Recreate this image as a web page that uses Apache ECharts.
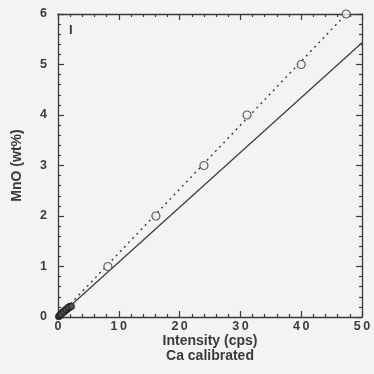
<!DOCTYPE html>
<html>
<head>
<meta charset="utf-8">
<script src="https://cdn.jsdelivr.net/npm/echarts@6/dist/echarts.min.js"></script>
<style>
  html, body { margin: 0; padding: 0; background: #f3f3f1; }
  #chart { width: 374px; height: 374px; }
</style>
</head>
<body>
<div id="chart"></div>
<script>
// Standards: intensity (cps) vs MnO (wt%)
const stdIntensity = [8.2, 16.1, 24.0, 31.1, 40.0, 47.4];
const stdMnO = [1, 2, 3, 4, 5, 6];

// Low-concentration samples clustered near the origin
const lowIntensity = [0.1, 0.2, 0.3, 0.4, 0.5, 0.6, 0.7, 0.8, 0.9, 1.0, 1.1, 1.2, 1.3, 1.4, 1.5, 1.6, 1.7, 1.8, 1.9, 2.0, 0.5, 0.9, 1.3, 1.7, 2.2];
const lowMnO =       [0.01, 0.02, 0.03, 0.05, 0.06, 0.07, 0.08, 0.09, 0.10, 0.11, 0.12, 0.13, 0.14, 0.15, 0.16, 0.17, 0.18, 0.19, 0.20, 0.21, 0.05, 0.10, 0.15, 0.19, 0.21];

// Fitted lines: through standards (dotted) and Ca-calibrated (solid)
const dottedX = [0, 47.4];
const dottedY = [0, 6];
const solidX = [0, 50];
const solidY = [0, 5.43];

const ink = '#3a3a3a';
const zip = (xs, ys) => xs.map((x, i) => [x, ys[i]]);
const spaced = v => String(v).split('').join('\u2009');

const tickFont = { fontFamily: 'Liberation Sans', fontWeight: 'bold', fontSize: 12.5, color: ink };
const titleFont = { fontFamily: 'Liberation Sans', fontWeight: 'bold', fontSize: 14, color: ink };

const baseX = {
  type: 'value', min: 0, max: 50, interval: 10,
  axisLine: { show: true, onZero: false, lineStyle: { color: ink, width: 1.3 } },
  axisTick: { show: true, inside: true, length: 6, lineStyle: { color: ink, width: 1.2 } },
  minorTick: { show: true, splitNumber: 5, length: 3, lineStyle: { color: ink, width: 1.2 } },
  splitLine: { show: false }
};
const baseY = {
  type: 'value', min: 0, max: 6, interval: 1,
  axisLine: { show: true, onZero: false, lineStyle: { color: ink, width: 1.3 } },
  axisTick: { show: true, inside: true, length: 6, lineStyle: { color: ink, width: 1.2 } },
  minorTick: { show: true, splitNumber: 5, length: 3, lineStyle: { color: ink, width: 1.2 } },
  splitLine: { show: false }
};

const chart = echarts.init(document.getElementById('chart'), null, { renderer: 'canvas' });
chart.setOption({
  backgroundColor: '#f3f3f1',
  animation: false,
  grid: { left: 58, right: 12, top: 14, bottom: 57 },
  xAxis: [
    Object.assign({}, baseX, {
      position: 'bottom',
      axisLabel: Object.assign({ margin: 3, formatter: spaced }, tickFont),
      name: 'Intensity (cps)\nCa calibrated',
      nameLocation: 'middle',
      nameGap: 16,
      nameMoveOverlap: false,
      nameTextStyle: Object.assign({ lineHeight: 15.5, verticalAlign: 'top' }, titleFont)
    }),
    Object.assign({}, baseX, { position: 'top', axisLabel: { show: false } })
  ],
  yAxis: [
    Object.assign({}, baseY, {
      position: 'left',
      axisLabel: Object.assign({ margin: 11 }, tickFont),
      name: 'MnO (wt%)',
      nameLocation: 'middle',
      nameGap: 34,
      nameTextStyle: titleFont
    }),
    Object.assign({}, baseY, { position: 'right', axisLabel: { show: false } })
  ],
  graphic: [{
    type: 'text', left: 69, top: 24,
    style: { text: 'I', font: 'bold 13px "Liberation Sans"', fill: ink }
  }],
  series: [
    {
      type: 'line', data: zip(solidX, solidY), symbol: 'none',
      lineStyle: { color: ink, width: 1.2 }, z: 2
    },
    {
      type: 'line', data: zip(dottedX, dottedY), symbol: 'none',
      lineStyle: { color: ink, width: 1.4, type: [2, 4] }, z: 2
    },
    {
      type: 'scatter', data: zip(stdIntensity, stdMnO), symbol: 'circle', symbolSize: 8,
      itemStyle: { color: '#f3f3f1', borderColor: ink, borderWidth: 1.2 }, z: 3
    },
    {
      type: 'scatter', data: zip(lowIntensity, lowMnO), symbol: 'circle', symbolSize: 6,
      itemStyle: { color: '#555', borderColor: '#222', borderWidth: 1.2 }, z: 4
    }
  ]
});
</script>
</body>
</html>
